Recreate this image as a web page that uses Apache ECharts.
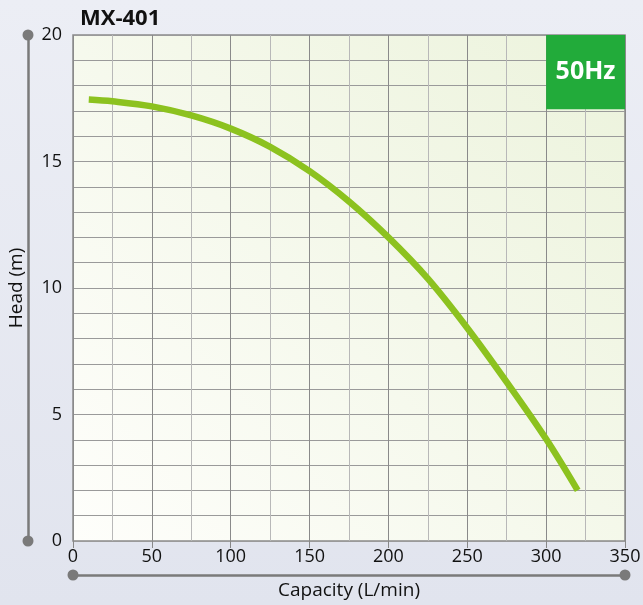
<!DOCTYPE html>
<html><head><meta charset="utf-8">
<script src="https://cdn.jsdelivr.net/npm/echarts@6/dist/echarts.min.js"></script>
<style>html,body{margin:0;padding:0;}#c{width:643px;height:605px;}</style>
</head><body><div id="c"></div>
<script>
const capacity = [10, 25, 50, 75, 100, 125, 150, 175, 200, 225, 250, 275, 300, 320];
const head = [17.45, 17.38, 17.18, 16.82, 16.3, 15.58, 14.62, 13.42, 12.0, 10.37, 8.42, 6.28, 4.03, 2.0];
const freqLabel = '50Hz';
const freqBox = [[300, 17.07], [350, 20]];
const modelName = 'MX-401';

const F = '"Open Sans", "Noto Sans", sans-serif';
const chart = echarts.init(document.getElementById('c'), null, {renderer: 'canvas'});
chart.setOption({
  animation: false,
  backgroundColor: {type: 'linear', x: 0, y: 0, x2: 0, y2: 1, colorStops: [{offset: 0, color: '#eceef5'}, {offset: 1, color: '#e1e4ee'}]},
  title: {text: modelName, left: 75, top: 3, textStyle: {fontFamily: F, fontWeight: 'bold', fontSize: 22, color: '#111'}},
  grid: {left: 73, right: 18, top: 35, bottom: 64, show: true, borderColor: '#8a8a8a', borderWidth: 1.5,
    outerBoundsMode: 'none', containLabel: false,
    backgroundColor: {type: 'linear', x: 0, y: 1, x2: 1, y2: 0, colorStops: [{offset: 0, color: '#fefefb'}, {offset: 1, color: '#ecf3dc'}]}},
  xAxis: [
    {type: 'value', min: 0, max: 350, interval: 50,
     axisLine: {show: false}, axisTick: {show: true, length: 7, lineStyle: {color: '#888'}},
     axisLabel: {fontFamily: F, fontSize: 18, color: '#111', margin: 7},
     splitLine: {show: true, lineStyle: {color: '#8a8a8a', width: 1}},
     minorTick: {show: false, splitNumber: 2},
     minorSplitLine: {show: true, lineStyle: {color: '#b8b8b8', width: 1}}},
    {type: 'value', min: 0, max: 350, position: 'bottom', offset: 34,
     axisLine: {show: true, onZero: false, symbol: ['circle', 'circle'], symbolSize: [11, 11], lineStyle: {color: '#7a7a7a', width: 2.5}},
     axisTick: {show: false}, axisLabel: {show: false}, splitLine: {show: false},
     name: 'Capacity (L/min)', nameLocation: 'middle', nameGap: 6, nameTextStyle: {fontFamily: F, fontSize: 19, color: '#111', verticalAlign: 'top'}}
  ],
  yAxis: [
    {type: 'value', min: 0, max: 20, interval: 5,
     axisLine: {show: false}, axisTick: {show: false},
     axisLabel: {fontFamily: F, fontSize: 18, color: '#111', margin: 11},
     splitLine: {show: true, lineStyle: {color: '#9a9a9a', width: 1}},
     minorTick: {show: false, splitNumber: 5},
     minorSplitLine: {show: true, lineStyle: {color: '#9a9a9a', width: 1}}},
    {type: 'value', min: 0, max: 20, position: 'left', offset: 45,
     axisLine: {show: true, onZero: false, symbol: ['circle', 'circle'], symbolSize: [11, 11], lineStyle: {color: '#7a7a7a', width: 2.5}},
     axisTick: {show: false}, axisLabel: {show: false}, splitLine: {show: false},
     name: 'Head (m)', nameLocation: 'middle', nameGap: 2, nameRotate: 90,
     nameTextStyle: {fontFamily: F, fontSize: 19, color: '#111', verticalAlign: 'bottom'}}
  ],
  series: [{
    type: 'line', xAxisIndex: 0, yAxisIndex: 0, smooth: 0.35, symbol: 'none',
    data: capacity.map((c, i) => [c, head[i]]),
    lineStyle: {color: '#8cc21f', width: 6.5, cap: 'butt'},
    markArea: {silent: true,
      itemStyle: {color: '#22ab3a', opacity: 1},
      label: {show: true, position: 'inside', formatter: freqLabel, fontFamily: F, fontWeight: 'bold', fontSize: 25, color: '#fff'},
      data: [[{coord: freqBox[0]}, {coord: freqBox[1]}]]}
  }]
});
</script></body></html>
